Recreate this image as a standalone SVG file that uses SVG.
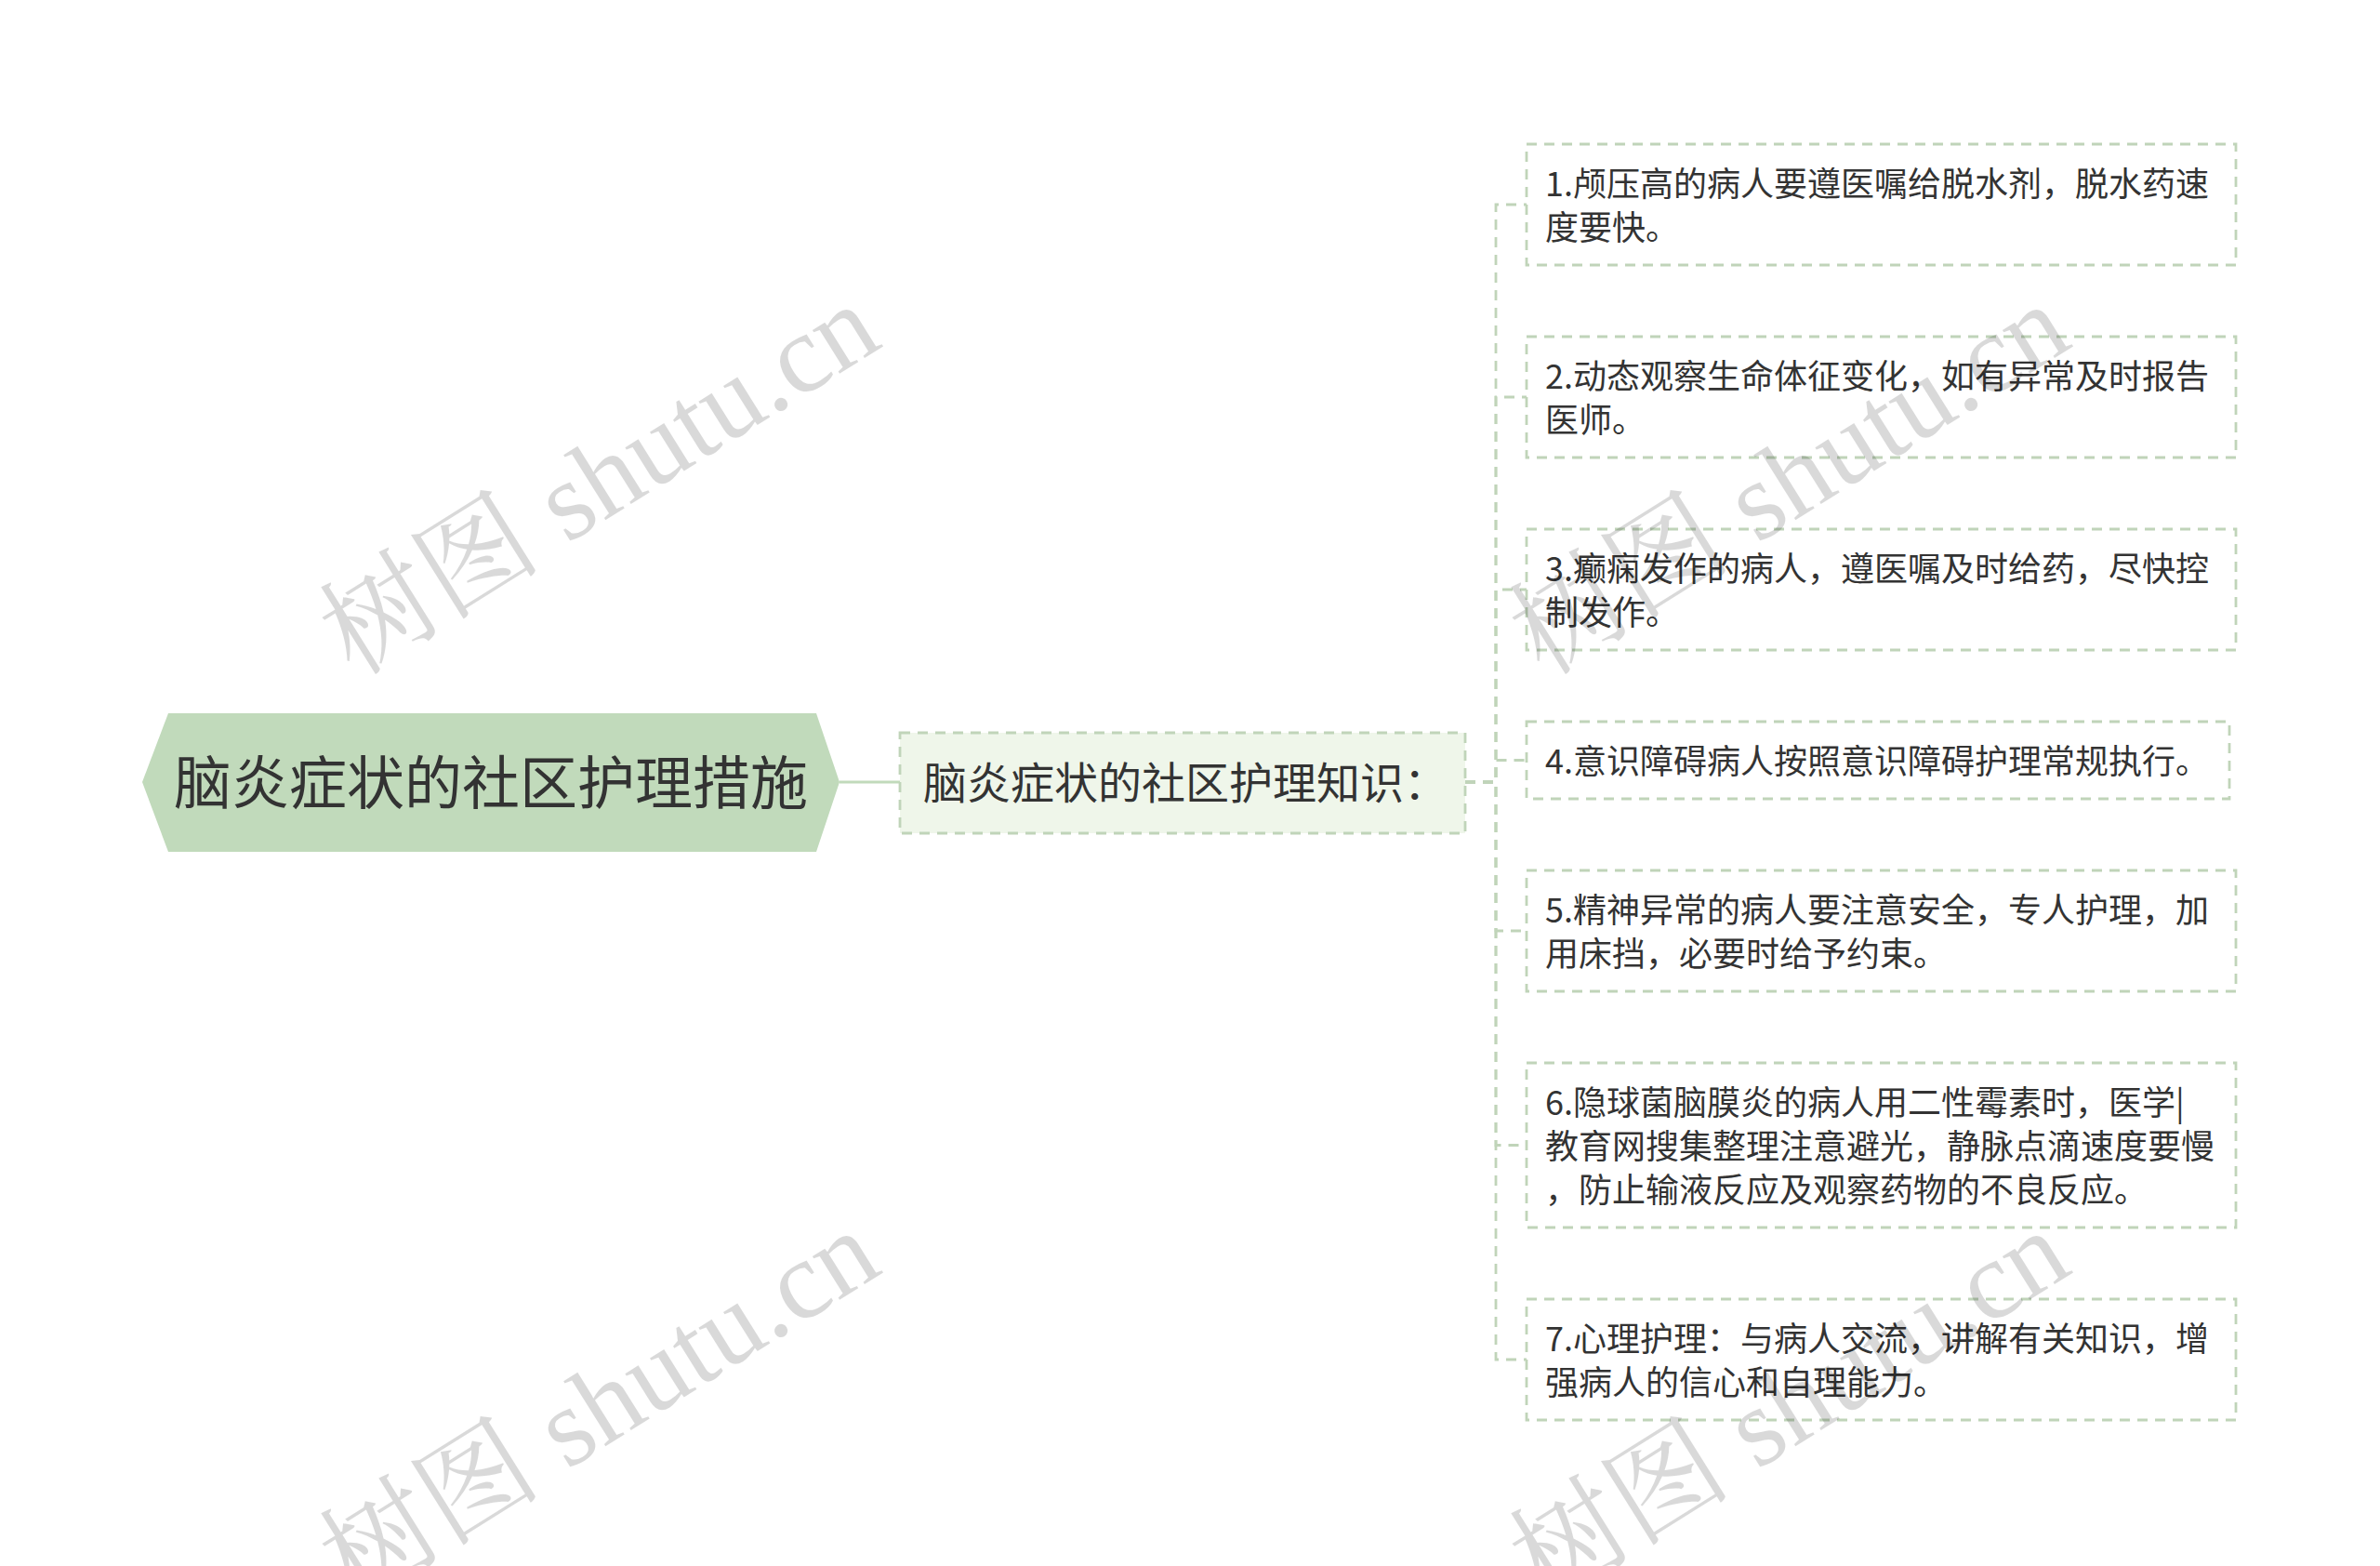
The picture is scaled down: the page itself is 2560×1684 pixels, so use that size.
<svg xmlns="http://www.w3.org/2000/svg" width="2560" height="1684" viewBox="0 0 2560 1684">
<style>
.t{font-family:"Noto Sans CJK SC","Noto Sans",sans-serif;fill:#333333}
.leaf rect{fill:#ffffff;stroke:#c0d4b9;stroke-width:2.8;stroke-dasharray:11 8}
.leaf text{font-size:36px}
.conn path{fill:none;stroke:#c0d4b9;stroke-width:2.8;stroke-dasharray:11 8}
.wm{font-family:"Liberation Serif","Noto Serif CJK SC","Noto Sans CJK SC",serif;font-size:120px;fill:#000000;fill-opacity:0.15}
</style>
<rect width="2560" height="1684" fill="#ffffff"/>
<g id="connectors" class="conn">
<line x1="903" y1="841" x2="968" y2="841" stroke="#c1dabb" stroke-width="3"/>
<path d="M1576 841 H1609 V220 H1642"/>
<path d="M1576 841 H1609 V427 H1642"/>
<path d="M1576 841 H1609 V634 H1642"/>
<path d="M1576 841 H1609 V817.5 H1642"/>
<path d="M1576 841 H1609 V1001 H1642"/>
<path d="M1576 841 H1609 V1231.5 H1642"/>
<path d="M1576 841 H1609 V1462 H1642"/>
</g>
<g id="root">
<polygon points="153,841 181,767 878,767 903,841 878,916 181,916" fill="#c1dabb"/>
<text class="t" x="528" y="865" font-size="62" text-anchor="middle">脑炎症状的社区护理措施</text>
</g>
<g id="mid">
<rect x="968" y="788" width="608" height="108" fill="#eff6ea" stroke="#c0d4b9" stroke-width="2.8" stroke-dasharray="11 8"/>
<text class="t" x="993" y="859" font-size="47">脑炎症状的社区护理知识：</text>
</g>
<g id="leaf1" class="leaf">
<rect x="1642" y="155" width="763" height="130"/>
<text class="t"><tspan x="1662" y="211">1.颅压高的病人要遵医嘱给脱水剂，脱水药速</tspan><tspan x="1662" y="258">度要快。</tspan></text>
</g>
<g id="leaf2" class="leaf">
<rect x="1642" y="362" width="763" height="130"/>
<text class="t"><tspan x="1662" y="418">2.动态观察生命体征变化，如有异常及时报告</tspan><tspan x="1662" y="465">医师。</tspan></text>
</g>
<g id="leaf3" class="leaf">
<rect x="1642" y="569" width="763" height="130"/>
<text class="t"><tspan x="1662" y="625">3.癫痫发作的病人，遵医嘱及时给药，尽快控</tspan><tspan x="1662" y="672">制发作。</tspan></text>
</g>
<g id="leaf4" class="leaf">
<rect x="1642" y="776" width="756" height="83"/>
<text class="t"><tspan x="1662" y="832">4.意识障碍病人按照意识障碍护理常规执行。</tspan></text>
</g>
<g id="leaf5" class="leaf">
<rect x="1642" y="936" width="763" height="130"/>
<text class="t"><tspan x="1662" y="992">5.精神异常的病人要注意安全，专人护理，加</tspan><tspan x="1662" y="1039">用床挡，必要时给予约束。</tspan></text>
</g>
<g id="leaf6" class="leaf">
<rect x="1642" y="1143" width="763" height="177"/>
<text class="t"><tspan x="1662" y="1199">6.隐球菌脑膜炎的病人用二性霉素时，医学|</tspan><tspan x="1662" y="1246">教育网搜集整理注意避光，静脉点滴速度要慢</tspan><tspan x="1662" y="1293">，防止输液反应及观察药物的不良反应。</tspan></text>
</g>
<g id="leaf7" class="leaf">
<rect x="1642" y="1397" width="763" height="130"/>
<text class="t"><tspan x="1662" y="1453">7.心理护理：与病人交流，讲解有关知识，增</tspan><tspan x="1662" y="1500">强病人的信心和自理能力。</tspan></text>
</g>
<g id="watermarks">
<text class="wm" text-anchor="middle" transform="translate(645 516) rotate(-32) translate(0 40)">树图 shutu.cn</text>
<text class="wm" text-anchor="middle" transform="translate(1925 516) rotate(-32) translate(0 40)">树图 shutu.cn</text>
<text class="wm" text-anchor="middle" transform="translate(645 1512) rotate(-32) translate(0 40)">树图 shutu.cn</text>
<text class="wm" text-anchor="middle" transform="translate(1925 1512) rotate(-32) translate(0 40)">树图 shutu.cn</text>
</g>
</svg>
